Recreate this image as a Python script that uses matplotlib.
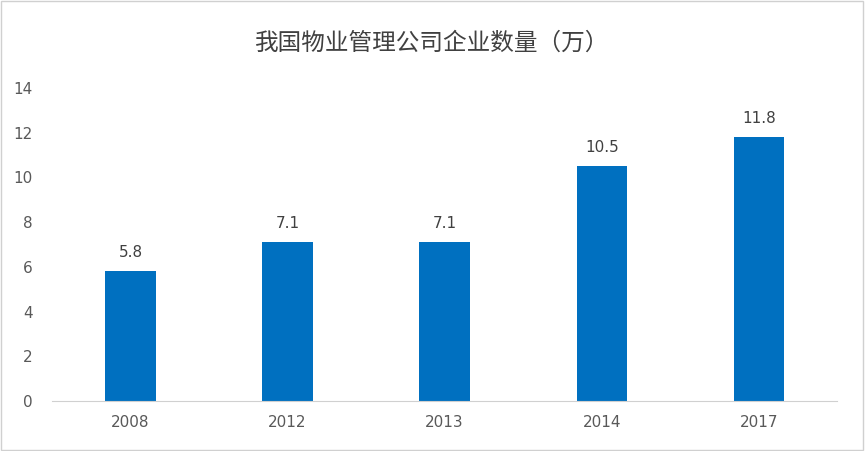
import matplotlib.pyplot as plt
import numpy as np

years = ['2008', '2012', '2013', '2014', '2017']
counts = [5.8, 7.1, 7.1, 10.5, 11.8]
yticks = [0, 2, 4, 6, 8, 10, 12, 14]

fig = plt.figure(figsize=(8.65, 4.51), dpi=100)
fig.patches.append(plt.Rectangle((0.001, 0.002), 0.997, 0.996, transform=fig.transFigure,
                                 fill=False, edgecolor='#d0d0d0', linewidth=1))
ax = fig.add_axes([0.060, 0.111, 0.908, 0.694])

x = np.arange(len(years))
ax.bar(x, counts, width=0.32, color='#0070C0')
for xi, v in zip(x, counts):
    ax.text(xi, v + 0.5, str(v), ha='center', va='bottom', fontsize=11, color='#404040')

ax.set_xlim(-0.5, len(years) - 0.5)
ax.set_ylim(0, 14)
ax.set_yticks(yticks)
ax.set_xticks(x)
ax.set_xticklabels(years)
ax.tick_params(length=0, labelsize=11, colors='#595959')
ax.tick_params(axis='y', pad=14)
ax.tick_params(axis='x', pad=10)
for s in ['top', 'right', 'left']:
    ax.spines[s].set_visible(False)
ax.spines['bottom'].set_color('#d0d0d0')

fig.text(0.5, 0.905, '我国物业管理公司企业数量（万）', ha='center', va='center',
         fontsize=17, color='#404040', family='Noto Sans CJK SC')

fig.savefig('out.png', dpi=100)
